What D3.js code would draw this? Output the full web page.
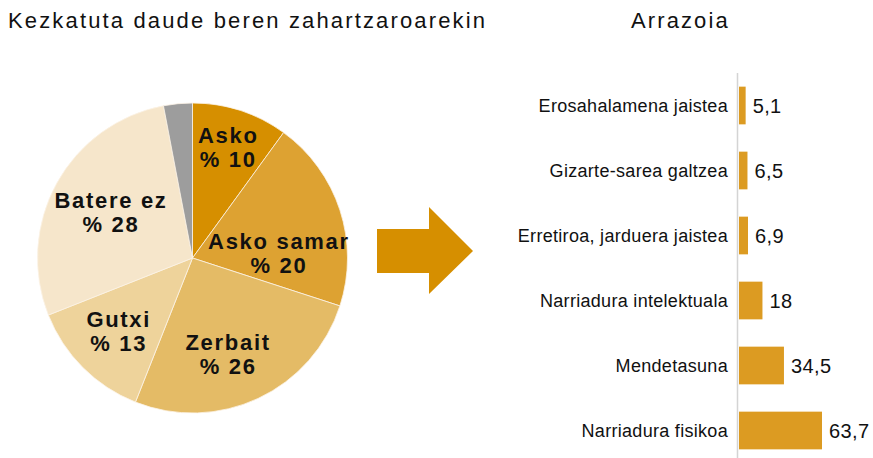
<!DOCTYPE html>
<html>
<head>
<meta charset="utf-8">
<script src="https://cdn.jsdelivr.net/npm/d3@7"></script>
<style>
  body { margin: 0; background: #fff; }
  svg text { font-family: "Liberation Sans", Arial, sans-serif; fill: #111; }
</style>
</head>
<body>
<svg id="chart" width="873" height="458"></svg>
<script>
// pie data
var pieLabels = ['Asko', 'Asko samar', 'Zerbait', 'Gutxi', 'Batere ez', ''];
var pieValues = [10, 20, 26, 13, 28, 3];
var pieColors = ['#d68f00', '#dda232', '#e4bb66', '#eed39b', '#f6e6cb', '#9d9d9d'];

// bar data
var barLabels = ['Erosahalamena jaistea', 'Gizarte-sarea galtzea', 'Erretiroa, jarduera jaistea',
  'Narriadura intelektuala', 'Mendetasuna', 'Narriadura fisikoa'];
var barValues = [5.1, 6.5, 6.9, 18, 34.5, 63.7];
var barValueText = ['5,1', '6,5', '6,9', '18', '34,5', '63,7'];

var svg = d3.select('#chart');

//titles
svg.append('text')
  .attr('x', 8).attr('y', 28)
  .style('font-size', '22px').style('letter-spacing', '2.15px')
  .text('Kezkatuta daude beren zahartzaroarekin');

svg.append('text')
  .attr('x', 631).attr('y', 28)
  .style('font-size', '22px').style('letter-spacing', '2.1px')
  .text('Arrazoia');

//pie
var pieData = pieValues.map(function (v, i) {
  return { label: pieLabels[i], value: v, color: pieColors[i] };
});

var pie = d3.pie().sort(null).value(function (d) { return d.value; });
var radius = 155;
var arc = d3.arc().innerRadius(0).outerRadius(radius);

var pieG = svg.append('g').attr('transform', 'translate(192.5, 258)');
var arcs = pie(pieData);

pieG.selectAll('path')
  .data(arcs)
  .enter()
  .append('path')
  .attr('d', arc)
  .attr('fill', function (d) { return d.data.color; })
  .attr('stroke', '#fbf3e6')
  .attr('stroke-width', 0.8);

// labels sit near the centroid, nudged by hand
var labelArc = d3.arc().innerRadius(radius * 0.6).outerRadius(radius * 0.6);
var labelShift = [[7, -27], [-2, 20], [-4, 8], [-8, 3], [0, -5]];

var pieLabelG = pieG.selectAll('g.pie-label')
  .data(arcs.filter(function (d) { return d.data.label !== ''; }))
  .enter()
  .append('g')
  .attr('class', 'pie-label')
  .attr('transform', function (d, i) {
    var c = labelArc.centroid(d);
    return 'translate(' + (c[0] + labelShift[i][0]) + ',' + (c[1] + labelShift[i][1]) + ')';
  });

pieLabelG.append('text')
  .attr('text-anchor', 'middle')
  .attr('y', 0)
  .style('font-size', '22px').style('font-weight', 'bold').style('letter-spacing', '1.7px')
  .text(function (d) { return d.data.label; });

pieLabelG.append('text')
  .attr('text-anchor', 'middle')
  .attr('y', 24)
  .style('font-size', '22px').style('font-weight', 'bold').style('letter-spacing', '1.7px')
  .text(function (d) { return '% ' + d.data.value; });

//arrow
var arrowPts = [[377, 229], [429, 229], [429, 207], [473, 251], [429, 294], [429, 273], [377, 273]];
svg.append('path')
  .attr('d', d3.line()(arrowPts) + 'Z')
  .attr('fill', '#d68f00');

//bars
var x = d3.scaleLinear().domain([0, 63.7]).range([739, 822]);
var y = d3.scaleBand().domain(barLabels).range([73, 463]).paddingInner(0.42).paddingOuter(0.21);

svg.selectAll('rect.bar')
  .data(barValues)
  .enter()
  .append('rect')
  .attr('class', 'bar')
  .attr('x', x(0))
  .attr('y', function (d, i) { return y(barLabels[i]); })
  .attr('width', function (d) { return x(d) - x(0); })
  .attr('height', y.bandwidth())
  .attr('fill', '#dc9b22');

svg.append('line')
  .attr('x1', 737.5).attr('x2', 737.5)
  .attr('y1', 73).attr('y2', 458)
  .attr('stroke', '#d4d4d4').attr('stroke-width', 1.5);

svg.selectAll('text.cat')
  .data(barLabels)
  .enter()
  .append('text')
  .attr('class', 'cat')
  .attr('x', 728)
  .attr('y', function (d) { return y(d) + y.bandwidth() / 2; })
  .attr('dy', '0.35em')
  .attr('text-anchor', 'end')
  .style('font-size', '18px').style('letter-spacing', '0.3px')
  .text(function (d) { return d; });

svg.selectAll('text.val')
  .data(barValues)
  .enter()
  .append('text')
  .attr('class', 'val')
  .attr('x', function (d) { return x(d) + 7; })
  .attr('y', function (d, i) { return y(barLabels[i]) + y.bandwidth() / 2; })
  .attr('dy', '0.36em')
  .style('font-size', '20px').style('letter-spacing', '0.4px')
  .text(function (d, i) { return barValueText[i]; });
</script>
</body>
</html>
